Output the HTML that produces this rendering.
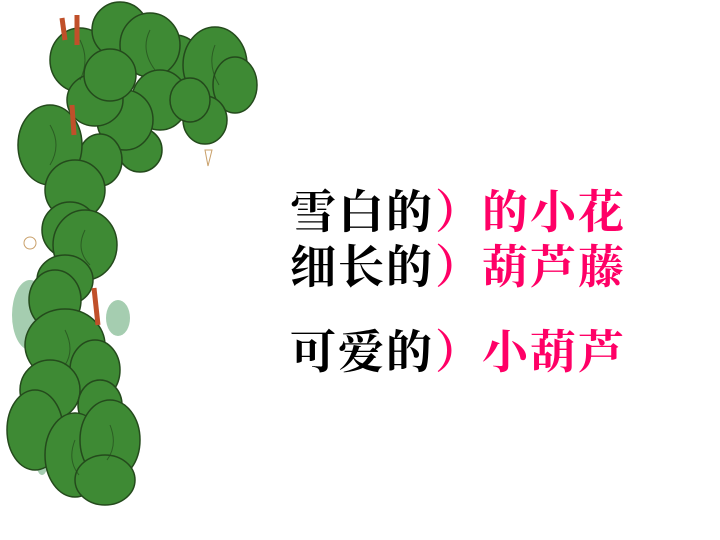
<!DOCTYPE html>
<html><head><meta charset="utf-8">
<style>
html,body{margin:0;padding:0;background:#fff;}
#slide{position:relative;width:720px;height:540px;overflow:hidden;background:#fff;}
.t{position:absolute;font-family:"Liberation Serif","Noto Serif CJK SC",serif;font-weight:bold;font-size:46px;line-height:46px;white-space:nowrap;letter-spacing:2px;}
.k{color:#000;}
.p{color:#ff0066;}
</style></head>
<body>
<div id="slide">
<svg width="720" height="540" style="position:absolute;left:0;top:0">
  <g fill="#9cc8a8" opacity="0.9">
    <ellipse cx="95" cy="180" rx="8" ry="18"/>
    <ellipse cx="30" cy="315" rx="18" ry="35"/>
    <ellipse cx="118" cy="318" rx="12" ry="18"/>
    <ellipse cx="42" cy="450" rx="8" ry="25"/>
  </g>
  <g fill="#3e8a34" stroke="#244a1c" stroke-width="1.5">
    <ellipse cx="80" cy="60" rx="30" ry="32"/>
    <ellipse cx="120" cy="30" rx="28" ry="28"/>
    <ellipse cx="175" cy="70" rx="30" ry="35"/>
    <ellipse cx="150" cy="45" rx="30" ry="32"/>
    <ellipse cx="140" cy="150" rx="22" ry="22"/>
    <ellipse cx="160" cy="100" rx="28" ry="30"/>
    <ellipse cx="125" cy="120" rx="28" ry="30"/>
    <ellipse cx="95" cy="100" rx="28" ry="26"/>
    <ellipse cx="110" cy="75" rx="26" ry="26"/>
    <ellipse cx="215" cy="65" rx="32" ry="38"/>
    <ellipse cx="235" cy="85" rx="22" ry="28"/>
    <ellipse cx="205" cy="120" rx="22" ry="24"/>
    <ellipse cx="190" cy="100" rx="20" ry="22"/>
    <ellipse cx="100" cy="160" rx="22" ry="26"/>
    <ellipse cx="50" cy="145" rx="32" ry="40"/>
    <ellipse cx="75" cy="190" rx="30" ry="30"/>
    <ellipse cx="70" cy="230" rx="28" ry="28"/>
    <ellipse cx="85" cy="245" rx="32" ry="35"/>
    <ellipse cx="65" cy="280" rx="28" ry="25"/>
    <ellipse cx="55" cy="300" rx="26" ry="30"/>
    <ellipse cx="65" cy="345" rx="40" ry="36"/>
    <ellipse cx="95" cy="370" rx="25" ry="30"/>
    <ellipse cx="50" cy="390" rx="30" ry="30"/>
    <ellipse cx="100" cy="405" rx="22" ry="25"/>
    <ellipse cx="35" cy="430" rx="28" ry="40"/>
    <ellipse cx="75" cy="455" rx="30" ry="42"/>
    <ellipse cx="110" cy="440" rx="30" ry="40"/>
    <ellipse cx="105" cy="480" rx="30" ry="25"/>
  </g>
  <g fill="none" stroke="#244a1c" stroke-width="1" opacity="0.7">
    <path d="M80 40 q10 20 0 40 M150 30 q-10 20 5 40 M215 45 q-8 20 4 40 M50 125 q12 20 0 40 M85 230 q-10 20 5 35 M65 330 q10 20 0 35 M75 440 q-8 20 4 35 M110 425 q8 20 -3 35"/>
  </g>
  <g stroke="#c0502a" stroke-width="5">
    <line x1="62" y1="18" x2="65" y2="40"/>
    <line x1="77" y1="15" x2="77" y2="45"/>
    <line x1="72" y1="105" x2="74" y2="135"/>
    <line x1="94" y1="288" x2="98" y2="325"/>
  </g>
  <g fill="#fff" stroke="#c9a06a" stroke-width="1">
    <circle cx="30" cy="243" r="6"/>
    <path d="M205 150 l3 16 l4 -16 z"/>
  </g>
</svg>
<div class="t k" style="left:290px;top:190px">雪白的</div>
<div class="t p" style="left:435px;top:190px">）</div>
<div class="t p" style="left:482px;top:190px">的小花</div>
<div class="t k" style="left:290px;top:245px">细长的</div>
<div class="t p" style="left:435px;top:245px">）</div>
<div class="t p" style="left:482px;top:245px">葫芦藤</div>
<div class="t k" style="left:290px;top:330px">可爱的</div>
<div class="t p" style="left:435px;top:330px">）</div>
<div class="t p" style="left:482px;top:330px">小葫芦</div>
</div>
</body></html>
